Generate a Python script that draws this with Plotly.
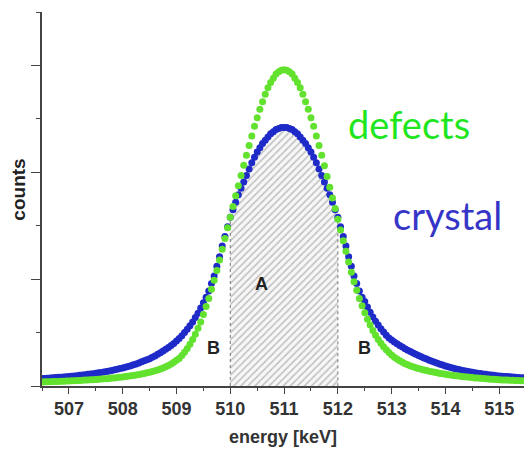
import numpy as np
import plotly.graph_objects as go

# Energy grid of the spectrum (keV), 0.05 keV channels
energy = np.round(np.arange(506.5, 515.5001, 0.05), 2)

# Annihilation line, defect-rich sample (arbitrary count units)
defects = [
    0.038, 0.039, 0.040, 0.040, 0.041, 0.042, 0.043, 0.044, 0.045, 0.046,
    0.047, 0.048, 0.049, 0.051, 0.052, 0.053, 0.055, 0.056, 0.058, 0.059,
    0.061, 0.063, 0.065, 0.067, 0.069, 0.071, 0.074, 0.076, 0.079, 0.082,
    0.085, 0.088, 0.091, 0.095, 0.099, 0.103, 0.107, 0.112, 0.117, 0.123,
    0.129, 0.135, 0.142, 0.150, 0.159, 0.169, 0.180, 0.192, 0.206, 0.222,
    0.240, 0.258, 0.285, 0.315, 0.350, 0.390, 0.435, 0.485, 0.540, 0.600,
    0.670, 0.745, 0.820, 0.905, 0.990, 1.080, 1.180, 1.280, 1.380, 1.480,
    1.580, 1.680, 1.780, 1.875, 1.970, 2.065, 2.160, 2.250, 2.340, 2.430,
    2.510, 2.590, 2.660, 2.730, 2.790, 2.840, 2.880, 2.920, 2.940, 2.955,
    2.960,
    2.955, 2.940, 2.920, 2.880, 2.840, 2.790, 2.730, 2.660, 2.590, 2.510,
    2.430, 2.340, 2.250, 2.160, 2.060, 1.960, 1.860, 1.760, 1.660, 1.560,
    1.460, 1.360, 1.260, 1.160, 1.065, 0.975, 0.895, 0.820, 0.750, 0.685,
    0.625, 0.570, 0.520, 0.475, 0.435, 0.400, 0.368, 0.340, 0.314, 0.290,
    0.270, 0.252, 0.236, 0.222, 0.209, 0.198, 0.188, 0.179, 0.171, 0.164,
    0.157, 0.150, 0.144, 0.138, 0.133, 0.128, 0.123, 0.118, 0.114, 0.110,
    0.106, 0.102, 0.099, 0.096, 0.093, 0.090, 0.087, 0.085, 0.082, 0.080,
    0.076, 0.074, 0.072, 0.070, 0.068, 0.066, 0.064, 0.062, 0.060, 0.058,
    0.057, 0.056, 0.055, 0.054, 0.053, 0.052, 0.051, 0.050, 0.049, 0.048,
]

# Annihilation line, defect-free crystal (arbitrary count units)
crystal = [
    0.070, 0.071, 0.073, 0.075, 0.077, 0.079, 0.081, 0.083, 0.085, 0.087,
    0.089, 0.091, 0.094, 0.097, 0.100, 0.103, 0.106, 0.109, 0.112, 0.115,
    0.119, 0.123, 0.127, 0.131, 0.136, 0.141, 0.146, 0.151, 0.157, 0.163,
    0.168, 0.175, 0.182, 0.190, 0.198, 0.207, 0.216, 0.226, 0.236, 0.246,
    0.256, 0.268, 0.281, 0.296, 0.311, 0.327, 0.343, 0.360, 0.379, 0.398,
    0.420, 0.445, 0.470, 0.500, 0.530, 0.565, 0.600, 0.640, 0.680, 0.730,
    0.780, 0.830, 0.890, 0.960, 1.030, 1.120, 1.210, 1.310, 1.400, 1.490,
    1.580, 1.650, 1.720, 1.790, 1.850, 1.910, 1.970, 2.030, 2.090, 2.140,
    2.190, 2.230, 2.270, 2.300, 2.330, 2.360, 2.380, 2.400, 2.410, 2.420,
    2.420,
    2.420, 2.410, 2.400, 2.380, 2.360, 2.330, 2.300, 2.270, 2.230, 2.190,
    2.140, 2.090, 2.030, 1.970, 1.910, 1.850, 1.790, 1.720, 1.650, 1.580,
    1.490, 1.400, 1.310, 1.210, 1.120, 1.030, 0.960, 0.890, 0.830, 0.790,
    0.740, 0.690, 0.645, 0.605, 0.570, 0.535, 0.505, 0.475, 0.450, 0.430,
    0.412, 0.395, 0.379, 0.364, 0.349, 0.335, 0.322, 0.309, 0.297, 0.285,
    0.274, 0.263, 0.252, 0.242, 0.232, 0.222, 0.213, 0.204, 0.196, 0.186,
    0.180, 0.173, 0.166, 0.160, 0.154, 0.148, 0.143, 0.138, 0.133, 0.128,
    0.124, 0.120, 0.116, 0.112, 0.109, 0.106, 0.103, 0.100, 0.097, 0.094,
    0.092, 0.090, 0.088, 0.086, 0.084, 0.082, 0.080, 0.078, 0.077, 0.076,
]

# Central integration window (region A) in keV
window_lo, window_hi = 510.0, 512.0

x_ticks = [507, 508, 509, 510, 511, 512, 513, 514, 515]

BLUE = "#1f2bc8"
GREEN = "#62e22e"
AXIS = "#444444"
ARIAL = "Liberation Sans, Arial, sans-serif"

crystal_arr = np.array(crystal)
in_win = (energy >= window_lo - 1e-9) & (energy <= window_hi + 1e-9)
win_x = np.concatenate([[window_lo], energy[in_win], [window_hi]])
win_y = np.concatenate([[0.0], crystal_arr[in_win], [0.0]])

fig = go.Figure()

# Hatched area A under the crystal line, with dotted window borders
fig.add_trace(go.Scatter(
    x=win_x, y=win_y, mode="lines", fill="toself",
    fillcolor="rgba(255,255,255,0)",
    fillpattern=dict(shape="/", fgcolor="#8c8c8c", bgcolor="#f7f7f7",
                     size=5, solidity=0.33),
    line=dict(color="#777777", width=1, dash="dot"),
    hoverinfo="skip", showlegend=False,
))

fig.add_trace(go.Scatter(
    x=energy, y=crystal, mode="markers",
    marker=dict(color=BLUE, size=7, symbol="circle", line=dict(width=0)),
    showlegend=False,
))
fig.add_trace(go.Scatter(
    x=energy, y=defects, mode="markers",
    marker=dict(color=GREEN, size=7, symbol="circle", line=dict(width=0)),
    showlegend=False,
))

label_font = dict(family=ARIAL, size=18, color="#222222", weight="bold")

annotations = [
    dict(x=510.58, y=0.95, text="A", font=label_font),
    dict(x=509.68, y=0.36, text="B", font=label_font),
    dict(x=512.50, y=0.36, text="B", font=label_font),
    dict(x=513.32, y=2.45, text="defects",
         font=dict(family="Lato, sans-serif", size=38, color="#1fe61f")),
    dict(x=514.04, y=1.60, text="crystal",
         font=dict(family="Lato, sans-serif", size=38, color="#3535c8")),
    dict(x=0, y=0.525, xref="paper", yref="paper", xshift=-23,
         text="counts", textangle=-90,
         font=dict(family=ARIAL, size=19, color="#222222", weight="bold")),
]
for a in annotations:
    a.setdefault("xref", "x")
    a.setdefault("yref", "y")
    a.update(showarrow=False, xanchor="center", yanchor="middle")

fig.update_layout(
    width=524, height=454,
    margin=dict(l=42, r=0, t=12, b=68),
    paper_bgcolor="white", plot_bgcolor="white",
    annotations=annotations,
    xaxis=dict(
        range=[506.5, 515.46], tickvals=x_ticks,
        ticks="outside", ticklen=6, tickwidth=1, tickcolor=AXIS,
        minor=dict(dtick=0.5, tick0=506.5, ticks="outside", ticklen=3,
                   tickcolor=AXIS),
        showline=True, linecolor=AXIS, linewidth=1.5,
        showgrid=False, zeroline=False,
        tickfont=dict(family=ARIAL, size=18, color="#333333", weight="bold"),
        title=dict(text="energy [keV]", standoff=12,
                   font=dict(family=ARIAL, size=18, color="#333333",
                             weight="bold")),
    ),
    yaxis=dict(
        range=[0, 3.5], dtick=1, tick0=0,
        ticks="outside", ticklen=9, tickwidth=1, tickcolor=AXIS,
        minor=dict(dtick=0.5, tick0=0, ticks="outside", ticklen=4,
                   tickcolor=AXIS),
        showticklabels=False,
        showline=True, linecolor=AXIS, linewidth=1.5,
        showgrid=False, zeroline=False,
    ),
)

fig.write_html("out.html")
